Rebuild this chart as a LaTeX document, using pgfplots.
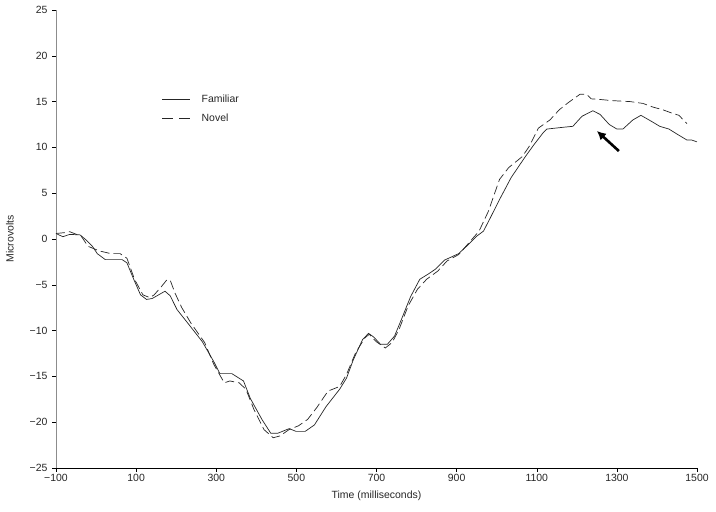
\documentclass[border=0pt]{standalone}
\usepackage{pgfplots}
\pgfplotsset{compat=1.18}
\usepackage{fontspec}
\setmainfont{Liberation Sans}
\usetikzlibrary{arrows.meta}
\begin{document}
\begin{tikzpicture}[x=1bp,y=1bp]
\path[use as bounding box] (0,0) rectangle (716,512);
\begin{axis}[
  at={(56bp,44bp)}, anchor=south west,
  scale only axis, width=641bp, height=458bp,
  xmin=-100, xmax=1500, ymin=-25, ymax=25,
  axis x line*=bottom, axis y line*=left,
  x axis line style={black, line width=0.6bp, -},
  y axis line style={black!45, line width=1bp, -},
  xtick={-100,100,300,500,700,900,1100,1300,1500},
  xticklabels={−100,100,300,500,700,900,1100,1300,1500},
  ytick={-25,-20,-15,-10,-5,0,5,10,15,20,25},
  yticklabels={−25,−20,−15,−10,−5,0,5,10,15,20,25},
  tick align=outside, major tick length=4bp,
  tick style={black, line width=0.5bp},
  ticklabel style={font=\fontsize{10.5}{12}\selectfont, text=black!85},
  xticklabel style={yshift=1bp},
  yticklabel style={xshift=-1bp},
  xlabel={Time (milliseconds)}, ylabel={Microvolts},
  label style={font=\fontsize{10.5}{12}\selectfont, text=black!85},
  xlabel style={at={(rel axis cs:0.5,0)}, anchor=center, yshift=-28bp},
  ylabel style={at={(rel axis cs:0,0.5)}, anchor=center, rotate=0, yshift=46bp},
  clip=false,
  legend style={draw=none, fill=none, at={(0.165,0.82)}, anchor=north west,
    font=\fontsize{10.5}{12}\selectfont, row sep=6bp, text=black!85,
    inner sep=0pt},
  legend cell align=left,
  legend image code/.code={\draw[#1] (0bp,0bp) -- (28bp,0bp); \path (37bp,0bp);},
]
\addlegendimage{black!85, line width=0.7bp}
\addlegendentry{Familiar}
\addlegendimage{black!85, line width=0.7bp, dash pattern=on 11bp off 6bp}
\addlegendentry{Novel}
\addplot[black!85, line width=0.7bp, forget plot] coordinates {
(-100,0.6) (-83,0.25) (-66,0.5) (-40,0.45) (-25,-0.1) (-9,-0.8) (3,-1.6) (23,-2.25)
(65,-2.25) (77,-2.6) (94,-4.4) (111,-6.1) (126,-6.6) (140,-6.5) (172,-5.7) (185,-6.2)
(202,-7.7) (231,-9.3) (265,-11.2) (294,-13.4) (309,-14.7) (339,-14.7) (368,-15.5)
(385,-17.4) (414,-19.7) (436,-21.2) (454,-21.2) (482,-20.7) (499,-21.0) (522,-21.0)
(545,-20.3) (574,-18.3) (608,-16.4) (625,-15.2) (642,-13.2) (665,-11.0) (680,-10.3)
(693,-10.7) (710,-11.5) (727,-11.5) (745,-10.6) (762,-8.8) (785,-6.3) (808,-4.4)
(830,-3.8) (847,-3.3) (870,-2.3) (905,-1.6) (927,-0.7) (950,0.3) (967,0.86) (984,2.3)
(1007,4.3) (1036,6.7) (1070,8.9) (1093,10.3) (1116,11.6) (1125,12.0) (1167,12.2)
(1190,12.3) (1213,13.4) (1240,14.0) (1258,13.6) (1281,12.5) (1300,12.0) (1315,12.0)
(1340,13.0) (1360,13.5) (1384,12.9) (1407,12.3) (1430,12.0) (1452,11.4) (1475,10.8)
(1487,10.8) (1500,10.6)
};
\addplot[black!85, line width=0.7bp, dash pattern=on 9bp off 4bp, forget plot] coordinates {
(-100,0.6) (-77,0.7) (-66,0.8) (-37,0.3) (-20,-0.8) (8,-1.3) (37,-1.6) (60,-1.6)
(77,-2.1) (96,-4.4) (117,-6.1) (134,-6.4) (145,-6.1) (163,-5.2) (176,-4.5) (185,-4.5)
(197,-5.9) (214,-7.5) (237,-9.2) (271,-11.3) (294,-13.7) (320,-15.7) (334,-15.5)
(357,-15.7) (374,-16.4) (394,-18.6) (419,-20.8) (442,-21.7) (459,-21.5) (482,-20.8)
(505,-20.4) (528,-19.7) (551,-18.4) (579,-16.6) (608,-16.1) (625,-14.8) (648,-12.4)
(671,-10.8) (682,-10.4) (699,-11.2) (722,-11.9) (739,-11.3) (756,-9.9) (779,-7.3)
(802,-5.5) (825,-4.4) (853,-3.5) (876,-2.4) (905,-1.7) (927,-0.6) (956,0.86) (979,3.0)
(1007,6.5) (1030,7.8) (1064,9.0) (1081,10.1) (1104,12.1) (1133,13.0) (1156,14.1)
(1179,14.9) (1208,15.8) (1224,15.8) (1236,15.3) (1253,15.25) (1290,15.1) (1333,15.0)
(1365,14.8) (1390,14.4) (1415,14.1) (1440,13.7) (1455,13.5) (1470,12.8) (1475,12.6)
};
\draw[-{Latex[length=9bp,width=9bp]}, line width=2.6bp, black] (axis cs:1305,9.6) -- (axis cs:1250,11.8);
\end{axis}
\end{tikzpicture}
\end{document}
